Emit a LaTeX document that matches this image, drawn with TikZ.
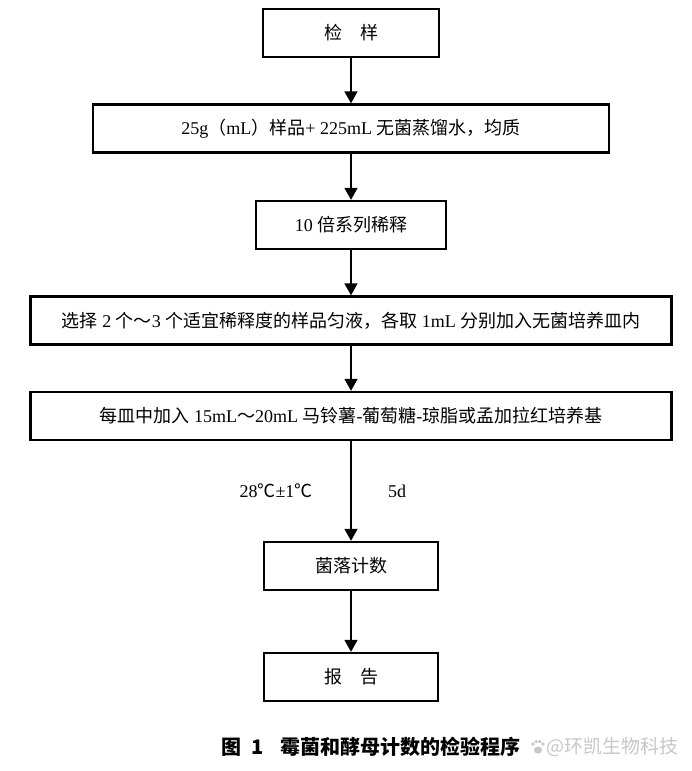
\documentclass[tikz,border=0pt]{standalone}
\usepackage{fontspec}
\setmainfont{Liberation Serif}
\newfontfamily\cjk{Noto Sans CJK SC}
\newcommand{\zh}[1]{{\cjk #1}}
\usetikzlibrary{arrows.meta,calc}
\begin{document}
\begin{tikzpicture}[x=1pt,y=-1pt,
  box/.style={draw=black,line width=2.4pt,minimum height=48pt,inner sep=0pt,
    font=\fontsize{18}{22}\selectfont},
  flow/.style={line width=1.7pt,-{Triangle[width=13pt,length=12pt]}},
  lbl/.style={font=\fontsize{18}{22}\selectfont,inner sep=0pt}]
\useasboundingbox (0,0) rectangle (692,771);
\fill[white] (0,0) rectangle (692,771);
\node[box,minimum width=176pt] (b1) at (351,33) {\zh{检\hspace{1em}样}};
\node[box,minimum width=516pt] (b2) at (351,128.5) {25g\zh{（}mL\zh{）样品}+ 225mL \zh{无菌蒸馏水，均质}};
\node[box,minimum width=190pt] (b3) at (351,225) {10 \zh{倍系列稀释}};
\node[box,minimum width=641pt] (b4) at (351,320.5) {\zh{选择} 2 \zh{个～}3 \zh{个适宜稀释度的样品匀液，各取} 1mL \zh{分别加入无菌培养皿内}};
\node[box,minimum width=641pt] (b5) at (351,416) {\zh{每皿中加入} 15mL\zh{～}20mL \zh{马铃薯}-\zh{葡萄糖}-\zh{琼脂或孟加拉红培养基}};
\node[box,minimum width=174pt] (b6) at (351,566) {\zh{菌落计数}};
\node[box,minimum width=174pt] (b7) at (351,677) {\zh{报\hspace{1em}告}};
\draw[flow] (b1) -- (b2);
\draw[flow] (b2) -- (b3);
\draw[flow] (b3) -- (b4);
\draw[flow] (b4) -- (b5);
\draw[flow] (b5) -- (b6);
\draw[flow] (b6) -- (b7);
\node[lbl] (t1) at (276,491) {28\zh{℃}±1\zh{℃}};
\node[lbl] (t2) at (397,491) {5d};
\node[font=\fontsize{20}{24}\selectfont\cjk\bfseries,inner sep=0pt] (cap) at (371,747) {图\hspace{0.5em}1\hspace{0.8em}霉菌和酵母计数的检验程序};
\node[font=\fontsize{19}{22}\selectfont\cjk,text=black!22,inner sep=0pt,anchor=west] (wm) at (546,747) {@环凯生物科技};
\begin{scope}[black!22]
\coordinate (paw) at (538,750);
\fill (paw) ellipse (4pt and 3.5pt);
\fill ($(paw)+(-5,-6)$) circle (1.8pt);
\fill ($(paw)+(-1.8,-8.5)$) circle (1.8pt);
\fill ($(paw)+(1.8,-8.5)$) circle (1.8pt);
\fill ($(paw)+(5,-6)$) circle (1.8pt);
\end{scope}
\end{tikzpicture}
\end{document}
